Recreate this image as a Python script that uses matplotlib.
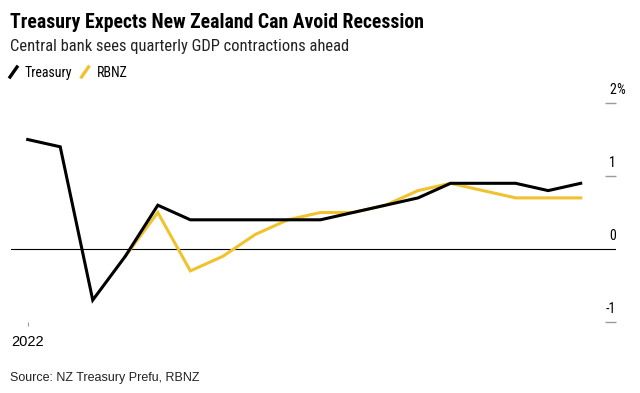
import matplotlib
matplotlib.use("Agg")
import matplotlib.pyplot as plt
from matplotlib.lines import Line2D

# quarterly GDP growth, % q/q, starting 2022
quarters = list(range(18))
treasury = [1.5, 1.4, -0.7, -0.1, 0.6, 0.4, 0.4, 0.4, 0.4, 0.4,
            0.5, 0.6, 0.7, 0.9, 0.9, 0.9, 0.8, 0.9]
rbnz_start = 3
rbnz = [-0.1, 0.5, -0.3, -0.1, 0.2, 0.4, 0.5, 0.5, 0.6, 0.8,
        0.9, 0.8, 0.7, 0.7, 0.7]
ytick_values = [-1, 0, 1, 2]
ytick_labels = ["-1", "0", "1", "2"]
xtick_labels = ["2022"]

BLACK = "#000000"
YELLOW = "#f0c22e"
GREY = "#9a9a9a"
FONT = ["Roboto Condensed", "Archivo Narrow", "Liberation Sans", "DejaVu Sans"]
PLAIN = ["Liberation Sans", "DejaVu Sans"]

plt.rcParams["font.family"] = FONT

fig = plt.figure(figsize=(6.4, 3.93), dpi=100)
W, H = 640, 393
ax = fig.add_axes([11 / W, 1 - 322 / H, 605 / W, 219 / H])

ax.plot(quarters[rbnz_start:], rbnz, color=YELLOW, lw=2.2, solid_joinstyle="miter", zorder=3)
ax.plot(quarters, treasury, color=BLACK, lw=2.2, solid_joinstyle="miter", zorder=4)
ax.axhline(0, color=BLACK, lw=0.8, zorder=2)

ax.set_xlim(-0.513, 18.085)
ax.set_ylim(-1, 2)
for s in ax.spines.values():
    s.set_visible(False)

# x axis: only the first year marked
ax.set_xticks([0])
ax.set_xticklabels(xtick_labels, fontsize=10.5, family=PLAIN)
ax.tick_params(axis="x", length=3, width=0.8, color=GREY, pad=6.5)

# y axis on the right, labels sit above short tick marks
ax.yaxis.tick_right()
ax.set_yticks([v for v in ytick_values if v != 0])
ax.set_yticklabels([])
ax.tick_params(axis="y", direction="in", length=8, width=1, color=GREY)
for v, lab in zip(ytick_values, ytick_labels):
    ax.annotate(lab, xy=(1, v), xycoords=("axes fraction", "data"),
                xytext=(0, 6.5), textcoords="offset points",
                ha="right", va="baseline", fontsize=10)
    if v == max(ytick_values):
        ax.annotate("%", xy=(1, v), xycoords=("axes fraction", "data"),
                    xytext=(0, 6.5), textcoords="offset points",
                    ha="left", va="baseline", fontsize=10)

# titles
fig.text(10 / W, 1 - 28 / H, "Treasury Expects New Zealand Can Avoid Recession",
         fontsize=14.2, fontweight="bold", va="baseline", ha="left")
fig.text(10 / W, 1 - 51 / H, "Central bank sees quarterly GDP contractions ahead",
         fontsize=11.9, va="baseline", ha="left", color="#222222")

# legend with slash markers, each item placed after the previous text
renderer = fig.canvas.get_renderer()
x0 = 10
for color, label in [(BLACK, "Treasury"), (YELLOW, "RBNZ")]:
    fig.add_artist(Line2D([x0 / W, (x0 + 7) / W], [1 - 77 / H, 1 - 67 / H],
                          transform=fig.transFigure, color=color, lw=2.4))
    t = fig.text((x0 + 15) / W, 1 - 77 / H, label, fontsize=10,
                 va="baseline", ha="left")
    x0 = t.get_window_extent(renderer).x1 + 9

fig.text(10 / W, 1 - 381 / H, "Source: NZ Treasury Prefu, RBNZ",
         fontsize=9, va="baseline", ha="left", color="#222222", family=PLAIN)

fig.savefig("out.png", dpi=100)
